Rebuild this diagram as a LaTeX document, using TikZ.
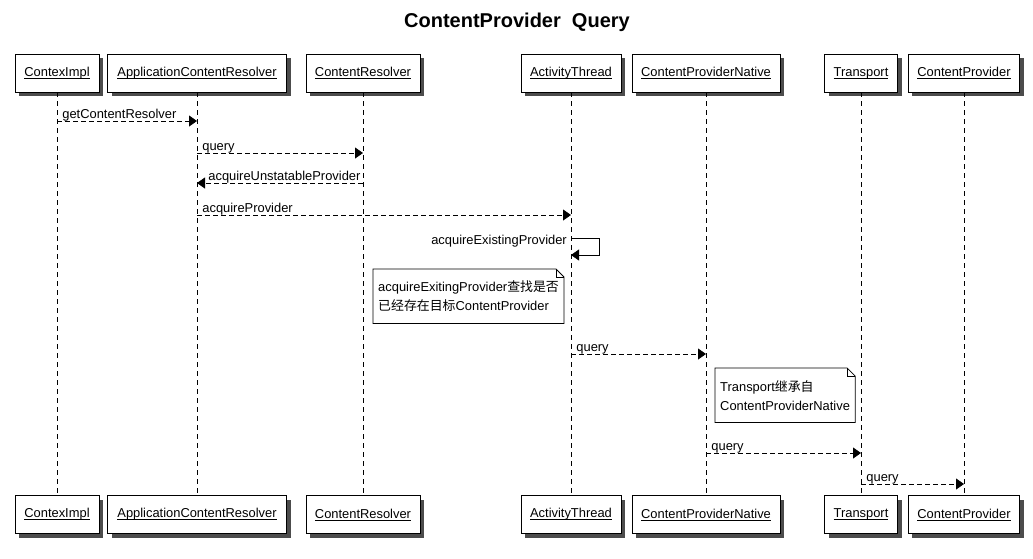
\documentclass[tikz,border=0pt]{standalone}
\usepackage{fontspec}
\setmainfont{Liberation Sans}
\newfontfamily\cjk{Noto Sans CJK SC}
\usetikzlibrary{arrows.meta,shadows}
\newcommand{\pname}[1]{\setbox0\hbox{#1}\rlap{\rule[-2pt]{\wd0}{0.6pt}}\box0}

\begin{document}
\begin{tikzpicture}[x=1pt,y=-1pt,
  pbox/.style={draw,fill=white,line width=0.8pt,minimum height=38pt,inner xsep=9pt,font=\fontsize{12.9}{15}\selectfont,drop shadow={shadow xshift=4pt,shadow yshift=-4pt,fill=black,opacity=0.7}},
  lbl/.style={font=\fontsize{12.9}{15}\selectfont,inner sep=0pt,anchor=base west},
  note/.style={anchor=north west,align=left,inner xsep=5pt,minimum height=54pt,font=\fontsize{12.9}{19}\selectfont}]
    \useasboundingbox (0,0) rectangle (1033,558);
    \node (title) at (517,22) {\fontsize{20}{24}\selectfont\bfseries ContentProvider\ \ Query};

    \node[pbox,minimum width=84pt] (ctx) at (57,73) {\pname{ContexImpl}};
    \node[pbox,minimum width=179pt] (acr) at (197,73) {\pname{ApplicationContentResolver}};
    \node[pbox,minimum width=113pt] (cr) at (363,73) {\pname{ContentResolver}};
    \node[pbox,minimum width=100pt] (at) at (571,73) {\pname{ActivityThread}};
    \node[pbox,minimum width=145pt] (cpn) at (706,73) {\pname{ContentProviderNative}};
    \node[pbox,minimum width=73pt] (tr) at (861,73) {\pname{Transport}};
    \node[pbox,minimum width=111pt] (cp) at (964,73) {\pname{ContentProvider}};

    \node[pbox,minimum width=84pt] (ctxB) at (57,514.5) {\pname{ContexImpl}};
    \node[pbox,minimum width=179pt] (acrB) at (197,514.5) {\pname{ApplicationContentResolver}};
    \node[pbox,minimum width=113pt] (crB) at (363,514.5) {\pname{ContentResolver}};
    \node[pbox,minimum width=100pt] (atB) at (571,514.5) {\pname{ActivityThread}};
    \node[pbox,minimum width=145pt] (cpnB) at (706,514.5) {\pname{ContentProviderNative}};
    \node[pbox,minimum width=73pt] (trB) at (861,514.5) {\pname{Transport}};
    \node[pbox,minimum width=111pt] (cpB) at (964,514.5) {\pname{ContentProvider}};

   \begin{scope}[line width=0.8pt,dash pattern=on 5pt off 4pt]
    \draw (ctx) -- (ctxB);
    \draw (acr) -- (acrB);
    \draw (cr) -- (crB);
    \draw (at) -- (atB);
    \draw (cpn) -- (cpnB);
    \draw (tr) -- (trB);
    \draw (cp) -- (cpB);
   \end{scope}

    \coordinate (m1a) at (57,121);  \coordinate (m1b) at (197,121);
    \coordinate (m2a) at (197,153); \coordinate (m2b) at (363,153);
    \coordinate (m3a) at (363,183); \coordinate (m3b) at (197,183);
    \coordinate (m4a) at (197,215); \coordinate (m4b) at (571,215);
    \coordinate (s1) at (571,238);  \coordinate (s2) at (599,238);
    \coordinate (s3) at (599,255);  \coordinate (s4) at (571,255);
    \coordinate (m6a) at (571,354); \coordinate (m6b) at (706,354);
    \coordinate (m7a) at (706,453); \coordinate (m7b) at (861,453);
    \coordinate (m8a) at (861,484); \coordinate (m8b) at (964,484);

   \begin{scope}[line width=0.8pt,dash pattern=on 5pt off 3pt,-{Triangle[length=8pt,width=11pt]}]
    \draw (m1a) -- node [lbl,pos=0,xshift=5pt,yshift=3pt] {getContentResolver} (m1b) ;
    \draw (m2a) -- node [lbl,pos=0,xshift=5pt,yshift=3pt] {query} (m2b) ;
    \draw (m3a) -- node [lbl,pos=1,xshift=11pt,yshift=3pt] {acquireUnstatableProvider} (m3b) ;
    \draw (m4a) -- node [lbl,pos=0,xshift=5pt,yshift=3pt] {acquireProvider} (m4b) ;
    \draw (m6a) -- node [lbl,pos=0,xshift=5pt,yshift=3pt] {query} (m6b) ;
    \draw (m7a) -- node [lbl,pos=0,xshift=5pt,yshift=3pt] {query} (m7b) ;
    \draw (m8a) -- node [lbl,pos=0,xshift=5pt,yshift=3pt] {query} (m8b) ;
   \end{scope}

    \draw[line width=0.8pt,-{Triangle[length=8pt,width=11pt]}] (s1) -- (s2) -- (s3) -- (s4);
    \node[lbl,anchor=base east] (s1l) at (567,244) {acquireExistingProvider};

    \node[note] (n1) at (373,269) {acquireExitingProvider{\cjk 查找是否}\\{\cjk 已经存在目标}ContentProvider};
    \draw[line width=0.8pt] (n1.south west) -- (n1.north west) -- ([xshift=-8pt]n1.north east) -- ([yshift=-8pt]n1.north east) -- (n1.south east) -- cycle;
    \draw[line width=0.8pt] ([xshift=-8pt]n1.north east) |- ([yshift=-8pt]n1.north east);

    \node[note] (n2) at (715,368) {Transport{\cjk 继承自}\\ContentProviderNative};
    \draw[line width=0.8pt] (n2.south west) -- (n2.north west) -- ([xshift=-8pt]n2.north east) -- ([yshift=-8pt]n2.north east) -- (n2.south east) -- cycle;
    \draw[line width=0.8pt] ([xshift=-8pt]n2.north east) |- ([yshift=-8pt]n2.north east);
\end{tikzpicture}
\end{document}
